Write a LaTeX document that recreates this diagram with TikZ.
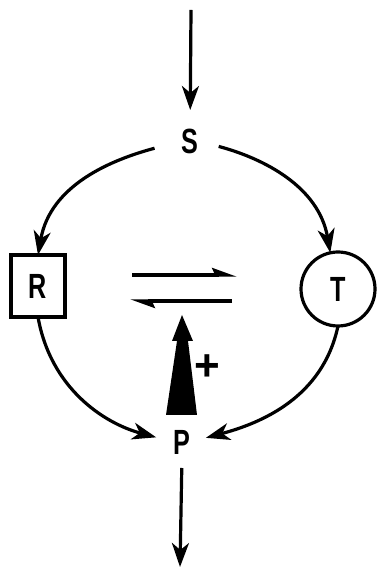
\documentclass[tikz,border=0pt]{standalone}
\usepackage{fontspec}
\setmainfont{Liberation Sans}
\usepackage{graphicx}
\usetikzlibrary{arrows.meta}
\newcommand\narrowletter[1]{\scalebox{0.72}[1]{#1}}
\begin{document}
\begin{tikzpicture}[x=1pt,y=1pt,
  every path/.style={line width=3.2pt},
  letter/.style={inner sep=0pt,outer sep=0pt,font=\bfseries\fontsize{35}{35}\selectfont,text height=26pt,text depth=0pt},
  boxnode/.style={letter,draw,line width=3.2pt,minimum width=54pt,minimum height=62pt},
  circnode/.style={letter,draw,line width=3.2pt,circle,minimum size=74pt},
  arr/.style={-{Stealth[length=24pt,width=17pt,inset=7pt]}},
  harp/.style={-{Stealth[left,length=20pt,width=14pt,inset=3pt]},line width=3.4pt},
  plusnode/.style={inner sep=0pt,font=\bfseries\fontsize{44}{44}\selectfont}
]
\useasboundingbox (0,0) rectangle (377,569);
\node[letter] (S) at (190,428) {\narrowletter{S}};
\node[boxnode] (R) at (38,283) {\narrowletter{R}};
\node[circnode] (T) at (338,280) {\narrowletter{T}};
\node[letter] (P) at (182,127) {\narrowletter{P}};
\coordinate (src) at (191,559);
\coordinate (snk) at (180,2);
\draw[arr,shorten >=18pt] (src) -- (S);
\draw[arr,shorten <=28pt] (S.west) to[out=195,in=80] (R.north);
\draw[arr,shorten <=21pt] (S.east) to[out=-15,in=100] (T.102);
\draw[arr,shorten >=18pt] (R.south) to[out=-80,in=165] (P.west);
\draw[arr,shorten >=16pt] (T.south) to[out=-102,in=15] (P.east);
\draw[arr,shorten <=13pt] (P.south) -- (snk);
\coordinate (h1a) at (132,294);
\coordinate (h1b) at (237,294);
\coordinate (h2a) at (232,268);
\coordinate (h2b) at (130,268);
\draw[harp] (h1a) -- (h1b);
\draw[harp] (h2a) -- (h2b);
\fill (182,254) -- (193,228) -- (188,228) -- (197,154) -- (166,154) -- (177,228) -- (172,228) -- cycle;
\node[plusnode] (plus) at (207,201) {+};
\end{tikzpicture}
\end{document}
